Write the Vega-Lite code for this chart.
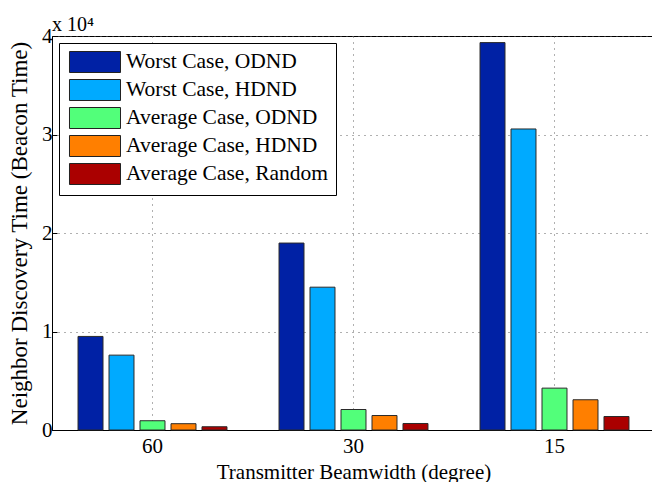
{
  "$schema": "https://vega.github.io/schema/vega-lite/v6.json",
  "width": 603,
  "height": 394,
  "autosize": "none",
  "padding": {"left": 52, "top": 36, "right": 0, "bottom": 52},
  "background": "white",
  "title": {
    "text": "x 10⁴",
    "anchor": "start",
    "frame": "group",
    "font": "Liberation Serif",
    "fontSize": 20,
    "fontWeight": "normal",
    "color": "black",
    "baseline": "alphabetic",
    "offset": 0,
    "dy": 26
  },
  "data": {
    "values": [
      {"beamwidth": "60", "series": "Worst Case, ODND", "time": 9500},
      {"beamwidth": "60", "series": "Worst Case, HDND", "time": 7600},
      {"beamwidth": "60", "series": "Average Case, ODND", "time": 940},
      {"beamwidth": "60", "series": "Average Case, HDND", "time": 640},
      {"beamwidth": "60", "series": "Average Case, Random", "time": 330},
      {"beamwidth": "30", "series": "Worst Case, ODND", "time": 18980},
      {"beamwidth": "30", "series": "Worst Case, HDND", "time": 14500},
      {"beamwidth": "30", "series": "Average Case, ODND", "time": 2080},
      {"beamwidth": "30", "series": "Average Case, HDND", "time": 1470},
      {"beamwidth": "30", "series": "Average Case, Random", "time": 660},
      {"beamwidth": "15", "series": "Worst Case, ODND", "time": 39330},
      {"beamwidth": "15", "series": "Worst Case, HDND", "time": 30560},
      {"beamwidth": "15", "series": "Average Case, ODND", "time": 4250},
      {"beamwidth": "15", "series": "Average Case, HDND", "time": 3070},
      {"beamwidth": "15", "series": "Average Case, Random", "time": 1370}
    ]
  },
  "mark": {"type": "bar", "stroke": "#2a2a2a", "strokeWidth": 1, "cornerRadius": 0},
  "encoding": {
    "x": {
      "field": "beamwidth",
      "type": "nominal",
      "sort": ["60", "30", "15"],
      "scale": {"paddingInner": 0.229, "paddingOuter": 0.1145},
      "axis": {
        "title": "Transmitter Beamwidth (degree)",
        "labelAngle": 0,
        "grid": true,
        "gridDash": [1, 5],
        "gridColor": "#606060",
        "gridWidth": 1,
        "tickSize": -5,
        "tickColor": "black",
        "domainColor": "black",
        "labelFont": "Liberation Serif",
        "labelFontSize": 21,
        "labelColor": "black",
        "labelPadding": 10,
        "titleFont": "Liberation Serif",
        "titleFontSize": 21,
        "titleFontWeight": "normal",
        "titleColor": "black",
        "titlePadding": 5
      }
    },
    "xOffset": {
      "field": "series",
      "type": "nominal",
      "sort": ["Worst Case, ODND", "Worst Case, HDND", "Average Case, ODND", "Average Case, HDND", "Average Case, Random"],
      "scale": {"paddingInner": 0.194, "paddingOuter": 0.097}
    },
    "y": {
      "field": "time",
      "type": "quantitative",
      "scale": {"domain": [0, 40000], "nice": false},
      "axis": {
        "title": "Neighbor Discovery Time (Beacon Time)",
        "values": [0, 10000, 20000, 30000, 40000],
        "labelExpr": "datum.value / 10000",
        "grid": true,
        "gridDash": [1, 5],
        "gridColor": "#606060",
        "gridWidth": 1,
        "tickSize": -5,
        "tickColor": "black",
        "domainColor": "black",
        "labelFont": "Liberation Serif",
        "labelFontSize": 21,
        "labelColor": "black",
        "labelPadding": 5,
        "titleFont": "Liberation Serif",
        "titleFontSize": 23,
        "titleFontWeight": "normal",
        "titleColor": "black",
        "titlePadding": 10
      }
    },
    "color": {
      "field": "series",
      "type": "nominal",
      "scale": {
        "domain": ["Worst Case, ODND", "Worst Case, HDND", "Average Case, ODND", "Average Case, HDND", "Average Case, Random"],
        "range": ["#0021a5", "#00aaff", "#52ff7a", "#ff7f00", "#aa0000"]
      },
      "legend": {
        "title": null,
        "orient": "top-left",
        "offset": 7,
        "symbolType": "M-0.81,-1H4.048V1H-0.81Z",
        "symbolSize": 441,
        "symbolStrokeColor": "#222222",
        "symbolStrokeWidth": 1,
        "symbolOpacity": 1,
        "labelFont": "Liberation Serif",
        "labelFontSize": 21.5,
        "labelColor": "black",
        "labelOffset": 37,
        "labelLimit": 0,
        "strokeColor": "black",
        "fillColor": "white",
        "padding": 8,
        "rowPadding": 2
      }
    }
  },
  "config": {
    "view": {"stroke": "black", "strokeWidth": 1}
  }
}
